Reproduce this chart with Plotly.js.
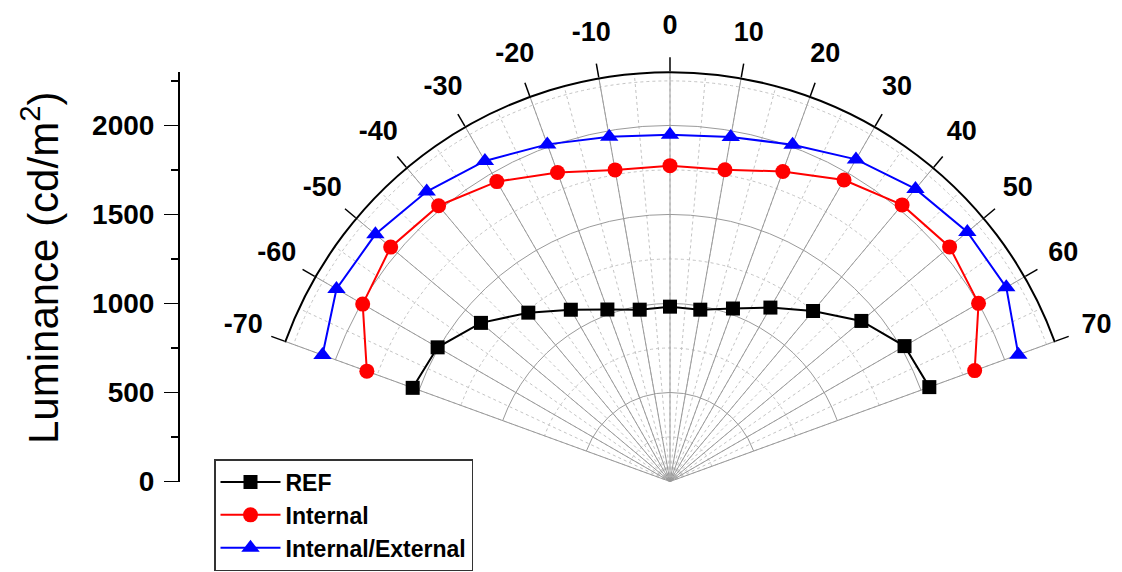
<!DOCTYPE html>
<html>
<head>
<meta charset="utf-8">
<script src="https://cdn.plot.ly/plotly-3.0.1.min.js"></script>
<style>html,body{margin:0;padding:0;background:#fff;}#chart{width:1122px;height:572px;}</style>
</head>
<body>
<div id="chart"></div>
<script>
// ---- data ----
const angles = [-70, -60, -50, -40, -30, -20, -10, 0, 10, 20, 30, 40, 50, 60, 70];
const refValues = [1538, 1507, 1386, 1238, 1114, 1028, 980, 982, 980, 1034, 1128, 1250, 1403, 1521, 1550];
const internalValues = [1812, 1993, 2048, 2022, 1945, 1847, 1777, 1774, 1778, 1853, 1955, 2028, 2050, 2001, 1821];
const intExtValues = [2077, 2163, 2160, 2126, 2079, 2015, 1966, 1947, 1965, 2013, 2089, 2145, 2180, 2181, 2082];
const angleTickValues = [-70, -60, -50, -40, -30, -20, -10, 0, 10, 20, 30, 40, 50, 60, 70];
const angleTickLabels = ['-70', '-60', '-50', '-40', '-30', '-20', '-10', '0', '10', '20', '30', '40', '50', '60', '70'];
const radialTicks = [0, 500, 1000, 1500, 2000];
const radialMinorTicks = [250, 750, 1250, 1750, 2250];
const seriesNames = ['REF', 'Internal', 'Internal/External'];

// ---- style / geometry ----
const FONT = '"Liberation Sans", Arial, sans-serif';
const R_MAX = 2300;          // outer arc of the plot
const LABEL_RANGE = 2600;    // range of the label ring subplot
const LABEL_R = 2550;        // radius at which angle labels sit
const W = 1122, H = 572;
const cx = 670, cy = 481.5, rpx = 409.5;
const pxPerUnit = rpx / R_MAX;
const C20 = Math.cos(20 * Math.PI / 180);
function domainFor(radiusPx) {
  return {
    x: [(cx - radiusPx * C20) / W, (cx + radiusPx * C20) / W],
    y: [(H - cy) / H, (H - (cy - radiusPx)) / H]
  };
}
const dom = domainFor(rpx);
const domLabels = domainFor(LABEL_RANGE * pxPerUnit);
const FRAME_HOLE = 0.999;

const common = {type: 'scatterpolar', mode: 'lines+markers', subplot: 'polar2', theta: angles, cliponaxis: false};
const traces = [
  {type: 'scatterpolar', subplot: 'polar', r: [], theta: [], showlegend: false, hoverinfo: 'skip'},
  {type: 'scatterpolar', subplot: 'polar3', r: [], theta: [], showlegend: false, hoverinfo: 'skip'},
  Object.assign({}, common, {name: seriesNames[0], r: refValues,
    line: {color: '#000000', width: 2}, marker: {symbol: 'square', size: 14, color: '#000000'}}),
  Object.assign({}, common, {name: seriesNames[1], r: internalValues,
    line: {color: '#ff0000', width: 2}, marker: {symbol: 'circle', size: 15, color: '#ff0000'}}),
  Object.assign({}, common, {name: seriesNames[2], r: intExtValues,
    line: {color: '#0000ff', width: 2}, marker: {symbol: 'triangle-up', size: 16, color: '#0000ff'}}),
  {type: 'scatterpolar', subplot: 'polar4', mode: 'text', theta: angleTickValues,
    r: angleTickValues.map(() => LABEL_R), text: angleTickLabels, textposition: 'middle center',
    textfont: {family: FONT, size: 27, color: '#000', weight: 'bold'},
    showlegend: false, hoverinfo: 'skip', cliponaxis: false},
  {type: 'scatter', x: [], y: [], xaxis: 'x', yaxis: 'y', showlegend: false, hoverinfo: 'skip'}
];

const hiddenAxes = {
  angularaxis: {rotation: 90, direction: 'clockwise', showticklabels: false, ticks: '', showline: false, showgrid: false},
  radialaxis: {range: [0, LABEL_RANGE], showticklabels: false, ticks: '', showline: false, showgrid: false}
};

const layout = {
  width: W, height: H,
  margin: {l: 0, r: 0, t: 0, b: 0},
  paper_bgcolor: '#ffffff',
  plot_bgcolor: 'rgba(0,0,0,0)',
  showlegend: true,
  font: {family: FONT, color: '#000'},
  // minor (dotted) grid underneath
  polar: {
    domain: dom, sector: [20, 160], hole: 0,
    bgcolor: '#ffffff',
    angularaxis: {rotation: 90, direction: 'clockwise', tickmode: 'linear', tick0: 0, dtick: 5,
      showticklabels: false, ticks: '', showline: false, gridcolor: '#c4c4c4', griddash: 'dot', gridwidth: 1},
    radialaxis: {range: [0, R_MAX], tickvals: radialMinorTicks, showticklabels: false, ticks: '',
      showline: false, gridcolor: '#c4c4c4', griddash: 'dot', gridwidth: 1}
  },
  // main polar with data and solid grid
  polar2: {
    domain: dom, sector: [20, 160], hole: 0,
    bgcolor: 'rgba(0,0,0,0)',
    angularaxis: {rotation: 90, direction: 'clockwise', tickmode: 'array', tickvals: angleTickValues,
      showticklabels: false, ticks: '', showline: false, gridcolor: '#9a9a9a', gridwidth: 1, layer: 'below traces'},
    radialaxis: {range: [0, R_MAX], tickvals: radialTicks.slice(1), showticklabels: false, ticks: '',
      showline: false, gridcolor: '#9a9a9a', gridwidth: 1, layer: 'below traces'}
  },
  // outer black arc with outward ticks
  polar3: {
    domain: dom, sector: [20, 160], hole: FRAME_HOLE,
    bgcolor: 'rgba(0,0,0,0)',
    angularaxis: {rotation: 90, direction: 'clockwise', tickmode: 'array', tickvals: angleTickValues,
      showticklabels: false, ticks: 'outside', ticklen: 14, tickwidth: 1.5, tickcolor: '#000',
      showline: true, linecolor: '#000', linewidth: 1.6, showgrid: false},
    radialaxis: {range: [0, 1], showticklabels: false, ticks: '', showline: false, showgrid: false}
  },
  // ring that carries the angle labels
  polar4: Object.assign({domain: domLabels, sector: [20, 160], hole: 0, bgcolor: 'rgba(0,0,0,0)'}, hiddenAxes),
  xaxis: {domain: [0.9, 1], visible: false, fixedrange: true},
  yaxis: {
    domain: dom.y, range: [0, R_MAX], anchor: 'free', position: 178 / W, side: 'left',
    tickvals: radialTicks, ticktext: radialTicks.map(String),
    ticks: 'outside', ticklen: 14, tickwidth: 1.5, tickcolor: '#000',
    minor: {tickvals: radialMinorTicks, ticks: 'outside', ticklen: 7, tickwidth: 1.5, tickcolor: '#000', showgrid: false},
    showline: true, linecolor: '#000', linewidth: 1.5, showgrid: false, zeroline: false,
    tickfont: {family: FONT, size: 28, color: '#000', weight: 'bold'},
    ticklabelstandoff: 4, automargin: false
  },
  annotations: [{
    text: 'Luminance (cd/m<sup>2</sup>)', xref: 'paper', yref: 'paper',
    x: 39.5 / W, y: (H - 267.5) / H, xanchor: 'center', yanchor: 'middle',
    textangle: -90, showarrow: false,
    font: {family: FONT, size: 42, color: '#000'}
  }],
  legend: {
    x: 214 / W, y: (H - 459) / H, xanchor: 'left', yanchor: 'top',
    bgcolor: '#ffffff', bordercolor: '#333', borderwidth: 1.5,
    font: {family: FONT, size: 23, color: '#000', weight: 'bold'},
    itemwidth: 60, traceorder: 'normal'
  }
};

Plotly.newPlot('chart', traces, layout, {staticPlot: true, displayModeBar: false});
</script>
</body>
</html>
